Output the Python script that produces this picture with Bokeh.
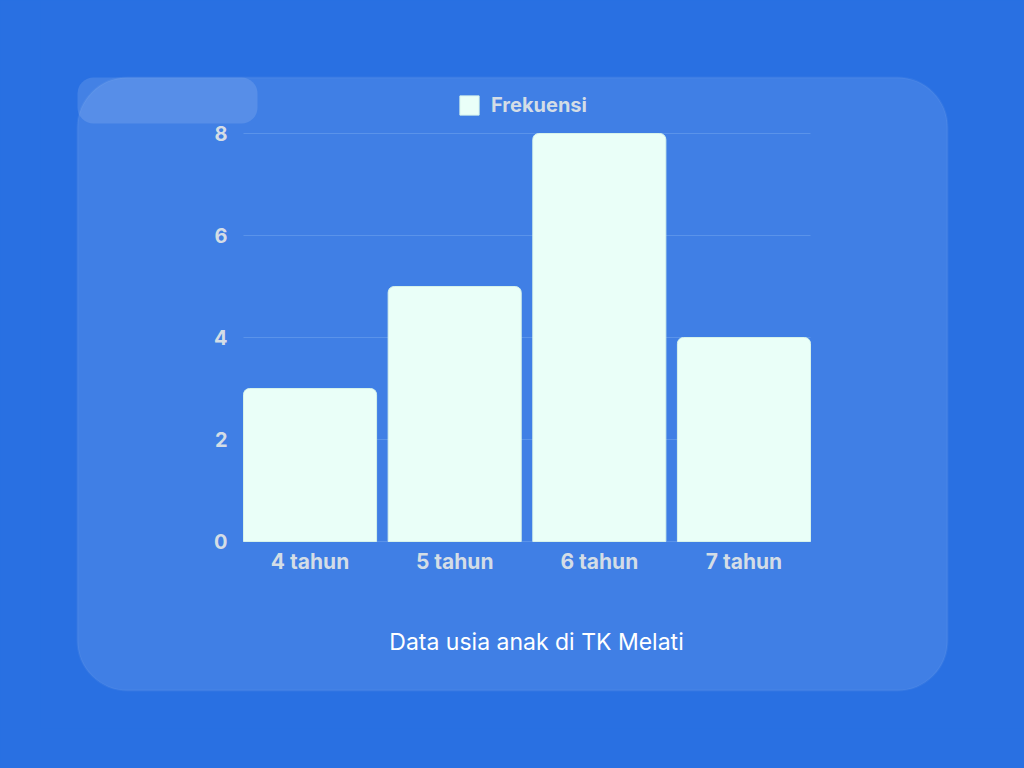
from bokeh.plotting import figure
from bokeh.models import (BoxAnnotation, Range1d, FixedTicker, Legend, LegendItem,
                          Label, ColumnDataSource)
from bokeh.embed import file_html
from bokeh.resources import INLINE

categories = ["4 tahun", "5 tahun", "6 tahun", "7 tahun"]
frekuensi = [3, 5, 8, 4]
y_ticks = [0, 2, 4, 6, 8]
series_name = "Frekuensi"
title_text = "Data usia anak di TK Melati"

FONT = "Inter"
TICK_COLOR = "#D4DDE6"
BAR_COLOR = "#EAFFF8"
BG = "#2970E2"

W, H = 1024, 768
BL, BB = 40, 40            # borders reserved for the (fixed-location) axes
FW, FH = W - BL, H - BB    # frame size

# pixel layout of the plotting area inside the canvas
PX_L, PX_R, PX_T, PX_B = 243, 810, 133, 541
BAR_W = 0.92

xs = list(range(len(categories)))
x_lo, x_hi = xs[0] - BAR_W / 2, xs[-1] + BAR_W / 2
y_lo, y_hi = y_ticks[0], y_ticks[-1]
ux = (PX_R - PX_L) / (x_hi - x_lo)
uy = (PX_B - PX_T) / (y_hi - y_lo)
x_range = Range1d(x_lo - (PX_L - BL) / ux, x_hi + (W - PX_R) / ux)
y_range = Range1d(y_lo - (FH - PX_B) / uy, y_hi + PX_T / uy)

src = ColumnDataSource(dict(x=xs, top=frekuensi))
grid_src = ColumnDataSource(dict(y=y_ticks, x0=[x_lo] * len(y_ticks),
                                 x1=[x_hi] * len(y_ticks)))

p = figure(width=W, height=H, output_backend="svg", toolbar_location=None,
           x_range=x_range, y_range=y_range,
           min_border_left=BL, min_border_right=0,
           min_border_top=0, min_border_bottom=BB)
p.border_fill_color = BG
p.background_fill_color = BG
p.outline_line_color = None
p.grid.visible = False
p.styles = {"background-color": BG}

def sy(y):  # canvas y (top-down) -> frame-relative screen y (bottom-up)
    return FH - y

def sx(x):
    return x - BL

panel = BoxAnnotation(left=sx(77), right=sx(947), top=sy(77), bottom=sy(690),
                      left_units="screen", right_units="screen",
                      top_units="screen", bottom_units="screen",
                      fill_color="white", fill_alpha=0.11,
                      line_color="white", line_alpha=0.05, line_width=2,
                      border_radius=50, level="underlay")
tab = BoxAnnotation(left=sx(77), right=sx(257), top=sy(77), bottom=sy(123),
                    left_units="screen", right_units="screen",
                    top_units="screen", bottom_units="screen",
                    fill_color="white", fill_alpha=0.12, line_color=None,
                    border_radius=16, level="underlay")
p.add_layout(panel)
p.add_layout(tab)

p.segment(x0="x0", x1="x1", y0="y", y1="y", source=grid_src,
          line_color="#5A93EA", line_width=1.2)

r = p.vbar(x="x", top="top", width=BAR_W, bottom=0, source=src,
           fill_color=BAR_COLOR, line_color="#D6F2EA", line_width=1,
           border_radius=(6, 6, 0, 0))

p.xaxis.ticker = FixedTicker(ticks=xs)
p.xaxis.major_label_overrides = {i: c for i, c in zip(xs, categories)}
p.xaxis.fixed_location = 0
p.yaxis.ticker = FixedTicker(ticks=y_ticks)
p.yaxis.fixed_location = x_lo
for ax in (p.xaxis[0], p.yaxis[0]):
    ax.axis_line_color = None
    ax.major_tick_line_color = None
    ax.minor_tick_line_color = None
    ax.major_label_text_font = FONT
    ax.major_label_text_font_style = "bold"
    ax.major_label_text_font_size = "20px"
    ax.major_label_text_color = TICK_COLOR
p.xaxis.major_label_text_font_size = "21px"
p.xaxis.major_label_standoff = 1
p.yaxis.major_label_standoff = 10

legend = Legend(items=[LegendItem(label=series_name, renderers=[r])],
                orientation="horizontal", location=(sx(457), sy(117)),
                glyph_width=24, glyph_height=24, label_standoff=10,
                label_text_font=FONT, label_text_font_style="bold",
                label_text_font_size="20px", label_text_color=TICK_COLOR,
                background_fill_alpha=0, border_line_alpha=0,
                padding=0, margin=0)
p.add_layout(legend, "center")

title = Label(x=sx(536), y=sy(641), x_units="screen", y_units="screen",
              text=title_text, text_align="center", text_baseline="middle",
              text_font=FONT, text_font_size="23px", text_color="white")
p.add_layout(title)

open("out.html", "w").write(file_html(p, INLINE))
